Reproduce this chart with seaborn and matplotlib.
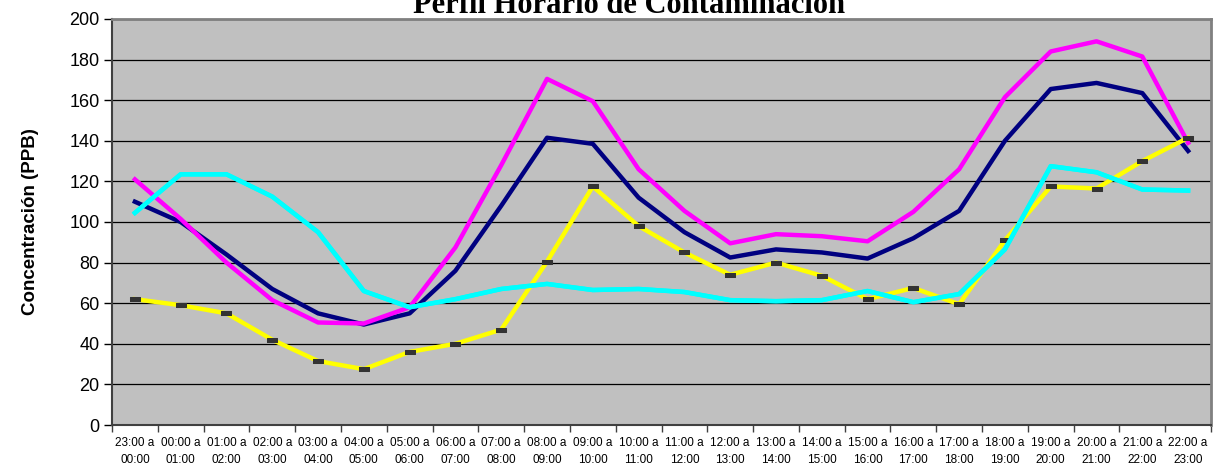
import numpy as np
import pandas as pd
import seaborn as sns
import matplotlib.pyplot as plt
from matplotlib.ticker import FixedLocator

horas = ['23:00 a\n00:00', '00:00 a\n01:00', '01:00 a\n02:00', '02:00 a\n03:00',
         '03:00 a\n04:00', '04:00 a\n05:00', '05:00 a\n06:00', '06:00 a\n07:00',
         '07:00 a\n08:00', '08:00 a\n09:00', '09:00 a\n10:00', '10:00 a\n11:00',
         '11:00 a\n12:00', '12:00 a\n13:00', '13:00 a\n14:00', '14:00 a\n15:00',
         '15:00 a\n16:00', '16:00 a\n17:00', '17:00 a\n18:00', '18:00 a\n19:00',
         '19:00 a\n20:00', '20:00 a\n21:00', '21:00 a\n22:00', '22:00 a\n23:00']

serie_azul = [110, 100, 84, 67, 55, 49.5, 55, 76, 108, 141.5, 138.5, 112,
              95, 82.5, 86.5, 85, 82, 92, 105.5, 140, 165.5, 168.5, 163.5, 135]
serie_magenta = [121, 101.5, 80, 61.5, 50.5, 50, 58, 87.5, 128, 170.5, 159.5, 126,
                 105.5, 89.5, 94, 93, 90.5, 105, 126, 161.5, 184, 189, 181.5, 139]
serie_amarilla = [62, 59, 55, 42, 31.5, 27.5, 36, 40, 47, 80.5, 117.5, 98,
                  85, 74, 80, 73.5, 62, 67.5, 59.5, 91, 117.5, 116.5, 130, 141.5]
serie_cian = [104.5, 123.5, 123.5, 112.5, 95, 66, 58, 62, 67, 69.5, 66.5, 67,
              65.5, 61.5, 61, 61.5, 66, 60.5, 64.5, 86.5, 127.5, 124.5, 116, 115.5]

x = np.arange(len(horas))

fig = plt.figure(figsize=(12.13, 4.66), dpi=100)
ax = fig.add_axes([112 / 1213, 1 - 425 / 466, (1211 - 112) / 1213, (425 - 19) / 466])
ax.set_facecolor('#C0C0C0')
ax.set_axisbelow(True)
ax.grid(axis='y', color='black', linewidth=0.9)
ax.grid(axis='x', visible=False)

series = [(serie_azul, '#000080'), (serie_magenta, '#FF00FF'),
          (serie_amarilla, '#FFFF00'), (serie_cian, '#00FFFF')]
for valores, color in series:
    sns.lineplot(x=x, y=valores, color=color, linewidth=3.2, sort=False, ax=ax)

# marcadores de la serie amarilla
rect = [(-1, -0.45), (1, -0.45), (1, 0.45), (-1, 0.45), (-1, -0.45)]
sns.lineplot(x=x, y=serie_amarilla, color='#FFFF00', linewidth=0, marker=rect,
             markersize=7, markerfacecolor='#333333', markeredgecolor='#333333',
             sort=False, ax=ax)
# redibujar cian encima
sns.lineplot(x=x, y=serie_cian, color='#00FFFF', linewidth=3.2, sort=False, ax=ax)

ax.set_xlim(-0.5, len(horas) - 0.5)
ax.set_ylim(0, 200)
ax.set_yticks(np.arange(0, 201, 20))
ax.set_xticks(x)
ax.set_xticklabels(horas, fontsize=8.5, family='Liberation Sans', linespacing=1.45)
ax.xaxis.set_minor_locator(FixedLocator(np.arange(-0.5, len(horas), 1)))
ax.tick_params(axis='x', which='major', length=0, pad=9)
ax.tick_params(axis='x', which='minor', length=5, width=1, color='#404040')
ax.tick_params(axis='y', length=6, width=1, pad=3, labelsize=13)
for lab in ax.get_yticklabels():
    lab.set_family('Liberation Sans')

for lado in ['left', 'bottom']:
    ax.spines[lado].set_color('#404040')
    ax.spines[lado].set_linewidth(1.5)
for lado in ['top', 'right']:
    ax.spines[lado].set_color('#808080')
    ax.spines[lado].set_linewidth(2)

ax.set_xlabel('')
ax.set_ylabel('Concentración (PPB)', fontsize=13.5, fontweight='bold',
              family='Liberation Sans', labelpad=22)

fig.text(0.519, 1 - 13 / 466, 'Perfil Horario de Contaminación', ha='center',
         va='baseline', fontsize=22, fontweight='bold', family='Liberation Serif')

fig.savefig('out.png', dpi=100, facecolor='white')
